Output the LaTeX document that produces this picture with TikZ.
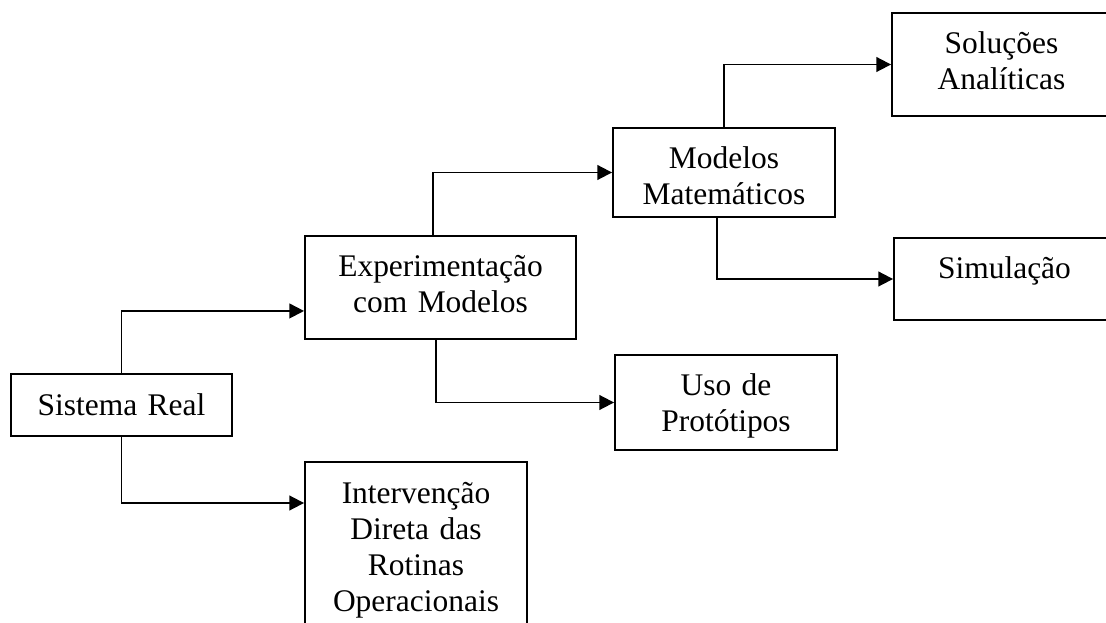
\documentclass[tikz,border=0pt]{standalone}
\usepackage{fontspec}
\setmainfont{Liberation Serif}
\usetikzlibrary{arrows.meta}

\tikzset{
  blk/.style={draw, line width=1.4pt, inner sep=0pt, align=center,
    font=\fontsize{23.6pt}{27pt}\selectfont, text height=30.75pt},
  lnk/.style={line width=1.4pt, -{Triangle[length=11pt,width=11pt]}},
}

\begin{document}
\begin{tikzpicture}[x=0.75pt, y=-0.75pt]

    \useasboundingbox (0, 0) rectangle (1106, 623);
    \clip (0, 0) rectangle (1106, 623);

    \node[blk, text width=165.75pt, text depth=15.75pt] (sist) at (121.5, 405) {Sistema Real};

    \node[blk, text width=203.25pt, text depth=46.5pt] (expe) at (440.5, 287.5) {Experimenta\c{c}\~ao\\com Modelos};
    \node[blk, text width=166.5pt, text depth=110.25pt] (inte) at (416, 556) {Interven\c{c}\~ao\\Direta das\\Rotinas\\Operacionais};

    \node[blk, text width=166.5pt, text depth=36pt] (mate) at (724, 172.5) {Modelos\\Matem\'aticos};
    \node[blk, text width=166.5pt, text depth=40.5pt] (prot) at (726, 402.5) {Uso de\\Prot\'otipos};

    \node[blk, text width=164.25pt, text depth=46.5pt] (anal) at (1001.5, 64.5) {Solu\c{c}\~oes\\Anal\'iticas};
    \node[blk, text width=165.75pt, text depth=30.75pt] (simu) at (1004.5, 279) {Simula\c{c}\~ao};

    \draw[lnk] (sist.north) |- ([yshift=-17.6pt]expe.west);
    \draw[lnk] (sist.south) |- ([yshift=39.75pt]inte.west);

    \draw[lnk] ([xshift=-5.6pt]expe.north) |- (mate.west);
    \draw[lnk] ([xshift=-3.4pt]expe.south) |- (prot.west);

    \draw[lnk] (mate.north) |- (anal.west);
    \draw[lnk] ([xshift=-5.25pt]mate.south) |- (simu.west);

  \end{tikzpicture}
\end{document}
